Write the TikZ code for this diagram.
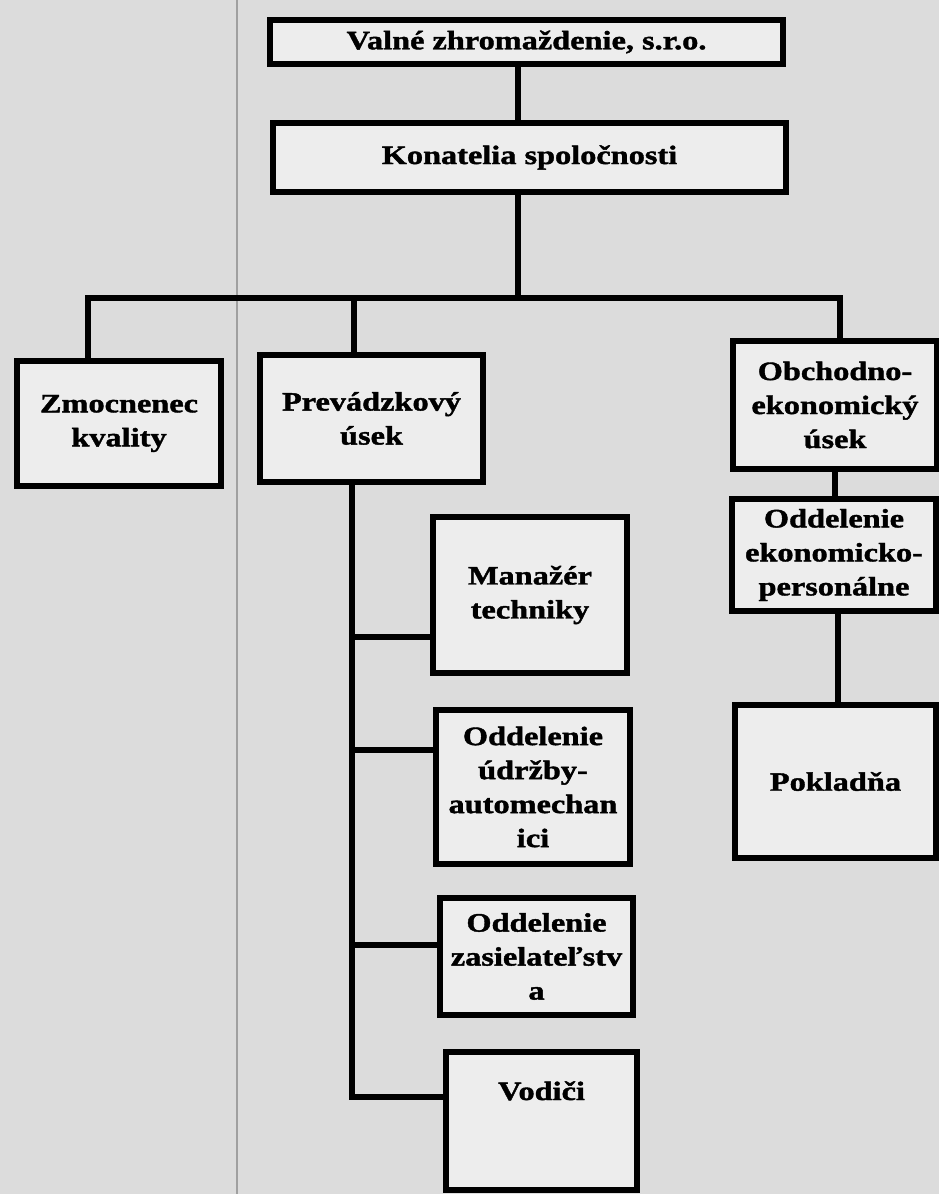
\documentclass[tikz,border=0pt]{standalone}
\usepackage{fontspec}
\setmainfont{Liberation Serif}
\newfontfamily\boxfont[FakeStretch=1.22,FakeBold=1.5]{Liberation Serif Bold}
\definecolor{bgfill}{HTML}{DCDCDC}
\definecolor{boxfill}{HTML}{EDEDED}
\definecolor{sepline}{HTML}{A0A0A0}
\begin{document}
\begin{tikzpicture}[x=1pt,y=-1pt,
  box/.style={draw=black, line width=6pt, fill=boxfill, align=center, inner sep=2pt,
    font=\boxfont\fontsize{26.5}{34}\selectfont},
  link/.style={draw=black, line width=6pt}]
\useasboundingbox (0,0) rectangle (939,1194);
\fill[bgfill] (0,0) rectangle (939,1194);
\draw[line width=2pt, sepline] (237,0) -- (237,1194);

% boxes
\node[box, minimum width=513pt, minimum height=44pt] (valne) at (526.5,42) {Valné zhromaždenie, s.r.o.};
\node[box, minimum width=513pt, minimum height=69pt] (konat) at (529.5,157.5) {Konatelia spoločnosti};
\node[box, minimum width=204pt, minimum height=125pt] (zmoc) at (119,423.5) {Zmocnenec\\kvality};
\node[box, minimum width=223pt, minimum height=127pt] (prev) at (371.5,418.5) {Prevádzkový\\úsek};
\node[box, minimum width=204pt, minimum height=128pt] (obch) at (835,405) {Obchodno-\\ekonomický\\úsek};
\node[box, minimum width=204pt, minimum height=112pt] (oddek) at (834,555) {Oddelenie\\ekonomicko-\\personálne};
\node[box, minimum width=201pt, minimum height=153pt] (pokl) at (835.5,781.5) {Pokladňa};
\node[box, minimum width=194pt, minimum height=156pt] (manazer) at (530,595) {Manažér\\techniky};
\node[box, minimum width=194pt, minimum height=154pt] (udrzba) at (533,787) {Oddelenie\\údržby-\\automechan\\ici};
\node[box, minimum width=193pt, minimum height=117pt] (zasiel) at (536.5,956.5) {Oddelenie\\zasielateľstv\\a};
\node[box, minimum width=191pt, minimum height=138pt, text height=18pt, text depth=60pt] (vodici) at (541.5,1121) {Vodiči};

% connector coordinates
\coordinate (c1) at (518,0);
\coordinate (c2) at (838,0);
\coordinate (barL) at (88,298);
\coordinate (barM) at (518,298);
\coordinate (barP) at (354,298);
\coordinate (barR) at (840,298);
\coordinate (b1) at (352,637);
\coordinate (b2) at (352,750);
\coordinate (b3) at (352,945);
\coordinate (b4) at (352,1097);

% connectors
\draw[link] (valne.south -| c1) -- (konat.north -| c1);
\draw[link] (konat.south -| c1) -- (barM);
\draw[link] (zmoc.north -| barL) -- (barL) -- (barR) -- (obch.north -| barR);
\draw[link] (barP) -- (prev.north -| barP);
\draw[link] (obch.south) -- (obch.south |- oddek.north);
\draw[link] (oddek.south -| c2) -- (pokl.north -| c2);
\draw[link] (prev.south -| b4) -- (b4) -- (b4 -| vodici.west);
\draw[link] (b1) -- (b1 -| manazer.west);
\draw[link] (b2) -- (b2 -| udrzba.west);
\draw[link] (b3) -- (b3 -| zasiel.west);
\end{tikzpicture}
\end{document}
